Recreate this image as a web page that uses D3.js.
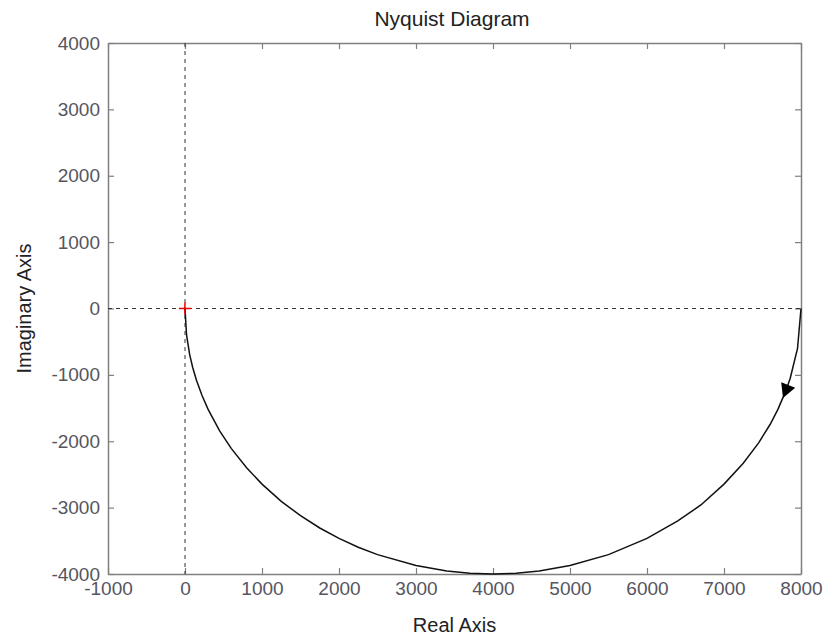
<!DOCTYPE html>
<html>
<head>
<meta charset="utf-8">
<script src="https://cdn.jsdelivr.net/npm/d3@7"></script>
<style>
  body { margin: 0; background: #fff; }
  text { font-family: "Liberation Sans", Arial, sans-serif; }
</style>
</head>
<body>
<svg id="chart" width="826" height="639"></svg>
<script>
// axis ticks
const xTicks = [-1000, 0, 1000, 2000, 3000, 4000, 5000, 6000, 7000, 8000]
const yTicks = [-4000, -3000, -2000, -1000, 0, 1000, 2000, 3000, 4000]

// Nyquist curve points (real, imaginary), in plotting order
const realPart = [8000, 7955, 7860, 7800, 7700, 7600, 7450, 7250, 7000, 6700, 6400, 6000,
  5500, 5000, 4600, 4300, 4000, 3700, 3400, 3000, 2500, 2250, 2000, 1750, 1500, 1250,
  1000, 800, 600, 450, 300, 220, 150, 100, 60, 20, 0]
const imagPart = [0, -600, -1050, -1249, -1520, -1744, -2024, -2332, -2646, -2960, -3200, -3464,
  -3708, -3873, -3955, -3989, -4000, -3989, -3955, -3873, -3708, -3597, -3464, -3307, -3122, -2905,
  -2646, -2400, -2107, -1843, -1520, -1308, -1085, -889, -690, -399, 0]

// arrow sits on the curve at this point index
const arrowIndex = 3
// critical point -1+0j
const critical = [-1, 0]

const margin = {top: 43, right: 25, bottom: 65, left: 108}
const W = 826, H = 639
const svg = d3.select('svg#chart')

const x = d3.scaleLinear().domain([-1000, 8000]).range([margin.left, W - margin.right])
const y = d3.scaleLinear().domain([-4000, 4000]).range([H - margin.bottom, margin.top])

const boxColor = '#808080'
const labelColor = '#555560'
const plainNum = (d) => String(d) // hyphen minus like the original

/* axes: ticks point inward on all four sides, labels only bottom/left */
const styleAxis = (g) => {
  g.selectAll('.domain').attr('stroke', boxColor).attr('stroke-width', 1.5)
  g.selectAll('.tick line').attr('stroke', boxColor).attr('stroke-width', 1.2)
  g.selectAll('.tick text')
    .attr('fill', labelColor)
    .style('font-size', '19px')
    .style('font-family', '"Liberation Sans", Arial, sans-serif')
}

svg.append('g')
  .attr('transform', `translate(0,${y(-4000)})`)
  .call(d3.axisBottom(x).tickValues(xTicks).tickSizeInner(-6).tickSizeOuter(0).tickPadding(8).tickFormat(plainNum))
  .call(styleAxis)

svg.append('g')
  .attr('transform', `translate(${x(-1000)},0)`)
  .call(d3.axisLeft(y).tickValues(yTicks).tickSizeInner(-6).tickSizeOuter(0).tickPadding(8).tickFormat(plainNum))
  .call(styleAxis)

svg.append('g')
  .attr('transform', `translate(0,${y(4000)})`)
  .call(d3.axisTop(x).tickValues(xTicks).tickSizeInner(-6).tickSizeOuter(0).tickFormat(''))
  .call(styleAxis)

svg.append('g')
  .attr('transform', `translate(${x(8000)},0)`)
  .call(d3.axisRight(y).tickValues(yTicks).tickSizeInner(-6).tickSizeOuter(0).tickFormat(''))
  .call(styleAxis)

// dashed zero lines
svg.append('line')
  .attr('x1', x(-1000)).attr('x2', x(8000))
  .attr('y1', y(0)).attr('y2', y(0))
  .attr('stroke', '#333').attr('stroke-width', 1).attr('stroke-dasharray', '4 4')
svg.append('line')
  .attr('x1', x(0)).attr('x2', x(0))
  .attr('y1', y(4000)).attr('y2', y(-4000))
  .attr('stroke', '#333').attr('stroke-width', 1).attr('stroke-dasharray', '4 4')

// the curve
const pts = realPart.map((r, i) => [r, imagPart[i]])
svg.append('path')
  .datum(pts)
  .attr('d', d3.line().x((d) => x(d[0])).y((d) => y(d[1])))
  .attr('fill', 'none')
  .attr('stroke', '#111')
  .attr('stroke-width', 1.5)

// direction arrow
const a = pts[arrowIndex], prev = pts[arrowIndex - 1], next = pts[arrowIndex + 1]
const ang = Math.atan2(y(next[1]) - y(prev[1]), x(next[0]) - x(prev[0])) * 180 / Math.PI
svg.append('path')
  .attr('d', 'M7,0 L-7,-7.5 L-7,7.5 Z')
  .attr('transform', `translate(${x(a[0])},${y(a[1])}) rotate(${ang})`)
  .attr('fill', '#000')

// red cross at critical point
const cs = 6
svg.append('g')
  .attr('stroke', '#e00').attr('stroke-width', 1.5)
  .call((g) => {
    g.append('line').attr('x1', x(critical[0]) - cs).attr('x2', x(critical[0]) + cs)
      .attr('y1', y(critical[1])).attr('y2', y(critical[1]))
    g.append('line').attr('x1', x(critical[0])).attr('x2', x(critical[0]))
      .attr('y1', y(critical[1]) - cs).attr('y2', y(critical[1]) + cs)
  })

// titles
svg.append('text')
  .attr('x', 452).attr('y', 26)
  .attr('text-anchor', 'middle')
  .attr('fill', '#222')
  .style('font-size', '21px')
  .text('Nyquist Diagram')

svg.append('text')
  .attr('x', (x(-1000) + x(8000)) / 2).attr('y', 632)
  .attr('text-anchor', 'middle')
  .attr('fill', '#222')
  .style('font-size', '20px')
  .text('Real Axis')

svg.append('text')
  .attr('transform', `translate(31,${(y(4000) + y(-4000)) / 2}) rotate(-90)`)
  .attr('text-anchor', 'middle')
  .attr('fill', '#222')
  .style('font-size', '20px')
  .text('Imaginary Axis')
</script>
</body>
</html>
